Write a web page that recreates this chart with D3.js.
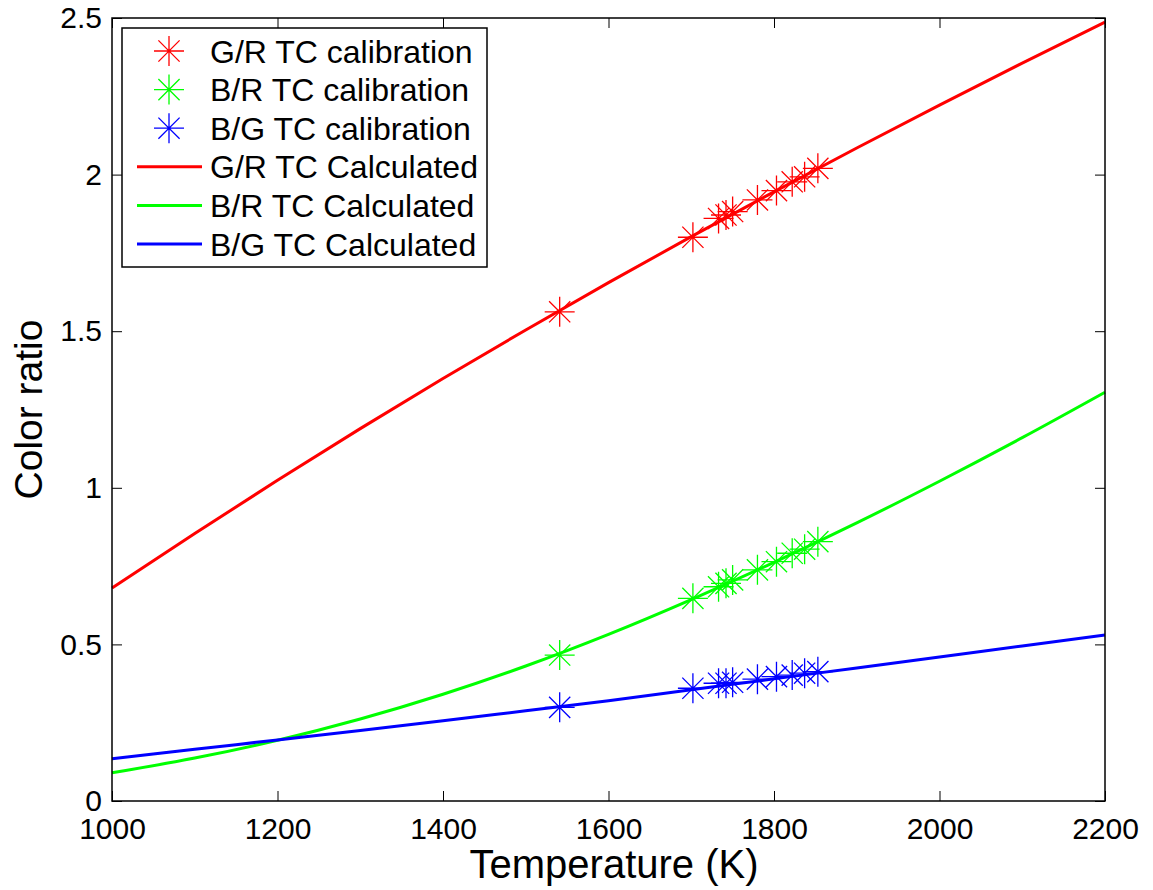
<!DOCTYPE html>
<html>
<head>
<meta charset="utf-8">
<script src="https://cdn.jsdelivr.net/npm/d3@7"></script>
<style>
  html, body { margin: 0; padding: 0; background: #fff; }
  svg { display: block; font-family: "Liberation Sans", Arial, Helvetica, sans-serif; }
</style>
</head>
<body>
<svg id="chart" width="1153" height="890"></svg>
<script>
(function () {
// calibration temperatures (K) and measured color ratios
const calTemps = [1541, 1702, 1733, 1742, 1750, 1780, 1803, 1822, 1837, 1853];
const calGR = [1.562, 1.800, 1.860, 1.871, 1.882, 1.919, 1.949, 1.977, 1.993, 2.020];
const calBR = [0.466, 0.647, 0.684, 0.695, 0.706, 0.738, 0.764, 0.791, 0.804, 0.828];
const calBG = [0.299, 0.360, 0.376, 0.376, 0.379, 0.389, 0.397, 0.402, 0.408, 0.413];

// calculated curves
const curveTemps = [1000, 1100, 1200, 1300, 1400, 1500, 1600, 1700, 1800, 1900, 2000, 2100, 2200];
const curveGR = [0.68, 0.854, 1.024, 1.189, 1.349, 1.504, 1.655, 1.802, 1.945, 2.085, 2.222, 2.356, 2.487];
const curveBR = [0.09, 0.137, 0.194, 0.262, 0.341, 0.431, 0.532, 0.643, 0.762, 0.888, 1.021, 1.16, 1.305];
const curveBG = [0.135, 0.165, 0.195, 0.225, 0.256, 0.288, 0.32, 0.355, 0.39, 0.425, 0.46, 0.495, 0.53];

const xTicks = [1000, 1200, 1400, 1600, 1800, 2000, 2200];
const yTicks = [0, 0.5, 1, 1.5, 2, 2.5];

const series = [
    { name: "G/R", color: "#ff0000", cal: calGR, calc: curveGR },
    { name: "B/R", color: "#00ff00", cal: calBR, calc: curveBR },
    { name: "B/G", color: "#0000ff", cal: calBG, calc: curveBG },
];

const svg = d3.select("#chart");
const plotLeft = 112, plotRight = 1105, plotTop = 18, plotBottom = 801;

const x = d3.scaleLinear().domain([1000, 2200]).range([plotLeft, plotRight]);
const y = d3.scaleLinear().domain([0, 2.5]).range([plotBottom, plotTop]);

// axes: ticks pointing inward, box all round
const tickLen = 10;
const axisFont = 30;

svg.append("g")
    .attr("transform", `translate(0,${plotBottom})`)
    .call(d3.axisBottom(x).tickValues(xTicks).tickSize(-tickLen).tickPadding(12).tickFormat(d3.format("d")))
    .call(g => g.select(".domain").remove())
    .call(g => g.selectAll("text").attr("font-size", axisFont).attr("dy", "0.85em").attr("fill", "#000"));

svg.append("g")
    .attr("transform", `translate(${plotLeft},0)`)
    .call(d3.axisLeft(y).tickValues(yTicks).tickSize(-tickLen).tickPadding(10).tickFormat(d => d))
    .call(g => g.select(".domain").remove())
    .call(g => g.selectAll("text").attr("font-size", axisFont).attr("fill", "#000"));

svg.append("g")
    .attr("transform", `translate(0,${plotTop})`)
    .call(d3.axisTop(x).tickValues(xTicks).tickSize(-tickLen).tickFormat(""))
    .call(g => g.select(".domain").remove());

svg.append("g")
    .attr("transform", `translate(${plotRight},0)`)
    .call(d3.axisRight(y).tickValues(yTicks).tickSize(-tickLen).tickFormat(""))
    .call(g => g.select(".domain").remove());

svg.selectAll(".tick line").attr("stroke", "#000").attr("stroke-width", 1);

const plot = svg.append("g");

// calculated lines
const line = d3.line().x(d => x(d[0])).y(d => y(d[1])).curve(d3.curveMonotoneX);
for (const s of series) {
    plot.append("path")
        .datum(curveTemps.map((t, i) => [t, s.calc[i]]))
        .attr("fill", "none")
        .attr("stroke", s.color)
        .attr("stroke-width", 3)
        .attr("d", line);
}

// asterisk marker
function asterisk(g, cx, cy, color) {
    const a = 15, b = 10.6;
    const p = `M${cx - a},${cy}H${cx + a}M${cx},${cy - a}V${cy + a}` +
        `M${cx - b},${cy - b}L${cx + b},${cy + b}M${cx - b},${cy + b}L${cx + b},${cy - b}`;
    g.append("path").attr("d", p).attr("stroke", color).attr("stroke-width", 1.3).attr("fill", "none");
}

for (const s of series) {
    const g = plot.append("g");
    calTemps.forEach((t, i) => asterisk(g, x(t), y(s.cal[i]), s.color));
}

// frame
svg.append("rect")
    .attr("x", plotLeft).attr("y", plotTop)
    .attr("width", plotRight - plotLeft).attr("height", plotBottom - plotTop)
    .attr("fill", "none").attr("stroke", "#000").attr("stroke-width", 1.5);

// axis titles
svg.append("text")
    .attr("x", 614).attr("y", 878)
    .attr("text-anchor", "middle").attr("font-size", 40)
    .text("Temperature (K)");

svg.append("text")
    .attr("transform", `translate(42,${(plotTop + plotBottom) / 2}) rotate(-90)`)
    .attr("text-anchor", "middle").attr("font-size", 39)
    .text("Color ratio");

// legend
const legend = svg.append("g");
legend.append("rect")
    .attr("x", 122).attr("y", 28).attr("width", 365).attr("height", 239)
    .attr("fill", "#fff").attr("stroke", "#000").attr("stroke-width", 1.5);

const legendRows = [
    ...series.map(s => ({ label: `${s.name} TC calibration`, color: s.color, kind: "marker" })),
    ...series.map(s => ({ label: `${s.name} TC Calculated`, color: s.color, kind: "line" })),
];
const rowY = d3.scaleLinear().domain([0, 5]).range([51, 244]);

legendRows.forEach((r, i) => {
    const cy = rowY(i);
    if (r.kind === "marker") {
        asterisk(legend, 169, cy, r.color);
    } else {
        legend.append("line")
            .attr("x1", 137).attr("x2", 202).attr("y1", cy).attr("y2", cy)
            .attr("stroke", r.color).attr("stroke-width", 3);
    }
    legend.append("text")
        .attr("x", 210).attr("y", cy).attr("dy", "0.36em")
        .attr("font-size", 32)
        .text(r.label);
});
})();
</script>
</body>
</html>
